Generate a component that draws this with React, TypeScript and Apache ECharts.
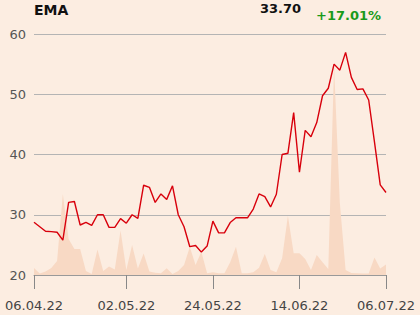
import React, { useEffect, useRef } from "react";
import * as echarts from "echarts";

const dates: string[] = [
  "06.04.22", "07.04.22", "08.04.22", "11.04.22", "12.04.22", "13.04.22", "14.04.22", "19.04.22",
  "20.04.22", "21.04.22", "22.04.22", "25.04.22", "26.04.22", "27.04.22", "28.04.22", "29.04.22",
  "02.05.22", "03.05.22", "04.05.22", "05.05.22", "06.05.22", "09.05.22", "10.05.22", "11.05.22",
  "12.05.22", "13.05.22", "16.05.22", "17.05.22", "18.05.22", "19.05.22", "20.05.22", "24.05.22",
  "25.05.22", "26.05.22", "27.05.22", "30.05.22", "31.05.22", "01.06.22", "02.06.22", "03.06.22",
  "06.06.22", "07.06.22", "08.06.22", "09.06.22", "10.06.22", "13.06.22", "14.06.22", "15.06.22",
  "17.06.22", "20.06.22", "21.06.22", "22.06.22", "23.06.22", "24.06.22", "27.06.22", "28.06.22",
  "29.06.22", "30.06.22", "01.07.22", "04.07.22", "05.07.22", "06.07.22",
];

const prices: number[] = [
  28.75, 28.0, 27.25, 27.2, 27.1, 25.8, 32.05, 32.2, 28.3, 28.75, 28.25, 30.0, 30.0, 27.9, 27.9, 29.35,
  28.6, 30.0, 29.4, 34.9, 34.55, 32.05, 33.45, 32.55, 34.8, 30.0, 28.0, 24.7, 24.9, 23.8, 24.8, 28.95,
  27.0, 27.0, 28.7, 29.5, 29.5, 29.5, 30.95, 33.45, 33.0, 31.3, 33.4, 40.0, 40.2, 46.95, 37.05, 44.0,
  42.95, 45.3, 49.75, 51.0, 55.0, 54.0, 56.95, 52.8, 50.8, 50.9, 49.05, 42.1, 34.95, 33.7,
];

const volumes: number[] = [
  7, 1.5, 3.5, 7, 14, 81, 36, 26, 26, 4, 1, 25.5, 4, 8.5, 5.5, 44.5,
  5, 30, 6.5, 21.5, 3.5, 2.3, 1.7, 6.7, 1, 4, 10, 28, 10, 23.3, 1.7, 2.7,
  1.7, 1.7, 12.7, 28.3, 1.7, 1.7, 2.7, 7.3, 21, 5, 2.7, 16.7, 59.3, 21.7, 21.7, 16,
  5, 20, 12.7, 6, 209, 72, 5, 2, 1.7, 1.5, 1.5, 17.5, 6.5, 10.5,
];

const tickLabels: string[] = ["06.04.22", "02.05.22", "24.05.22", "14.06.22", "06.07.22"];
const yTicks: number[] = [20, 30, 40, 50, 60];

const titleText = "EMA";
const lastPriceText = "33.70";
const changeText = "+17.01%";

const FONT = "DejaVu Sans";

export default function App() {
  const ref = useRef<HTMLDivElement>(null);
  useEffect(() => {
    if (!ref.current) return;
    const chart = echarts.init(ref.current, undefined, { renderer: "svg" });
    const showTick = (_i: number, v: string) => tickLabels.indexOf(v) >= 0;
    chart.setOption({
      animation: false,
      backgroundColor: "#fcede1",
      grid: { left: 34, right: 34, top: 34, bottom: 40, containLabel: false },
      graphic: [
        { type: "text", left: 34, top: 3, style: { text: titleText, font: `bold 14px ${FONT}`, fill: "#111" } },
        { type: "text", left: 260, top: 2, style: { text: lastPriceText, font: `bold 13px ${FONT}`, fill: "#111" } },
        { type: "text", left: 316, top: 9, style: { text: changeText, font: `bold 13px ${FONT}`, fill: "#1a9a1a" } },
      ],
      xAxis: {
        type: "category",
        data: dates,
        boundaryGap: false,
        axisLine: { lineStyle: { color: "#999", width: 1 } },
        axisTick: { show: true, length: 14, interval: showTick, lineStyle: { color: "#888" } },
        axisLabel: { interval: showTick, margin: 24, fontFamily: FONT, fontSize: 13, color: "#444" },
        splitLine: { show: false },
      },
      yAxis: [
        {
          type: "value",
          min: yTicks[0],
          max: yTicks[yTicks.length - 1],
          interval: 10,
          axisLine: { show: false },
          axisTick: { show: false },
          axisLabel: { margin: 8, fontFamily: FONT, fontSize: 13, color: "#555" },
          splitLine: { lineStyle: { color: "#b4b4b4", width: 1 } },
        },
        { type: "value", min: 0, max: 241, show: false, splitLine: { show: false } },
      ],
      series: [
        {
          type: "line",
          yAxisIndex: 1,
          data: volumes,
          symbol: "none",
          lineStyle: { width: 0 },
          areaStyle: { color: "#f8d9c4", opacity: 1 },
          z: 1,
          silent: true,
        },
        {
          type: "line",
          yAxisIndex: 0,
          data: prices,
          symbol: "none",
          lineStyle: { color: "#d8000c", width: 1.4 },
          z: 3,
          silent: true,
        },
      ],
    });
    return () => chart.dispose();
  }, []);
  return (
    <div
      ref={ref}
      style={{ position: "fixed", left: 0, top: 0, width: 420, height: 315 }}
    />
  );
}
